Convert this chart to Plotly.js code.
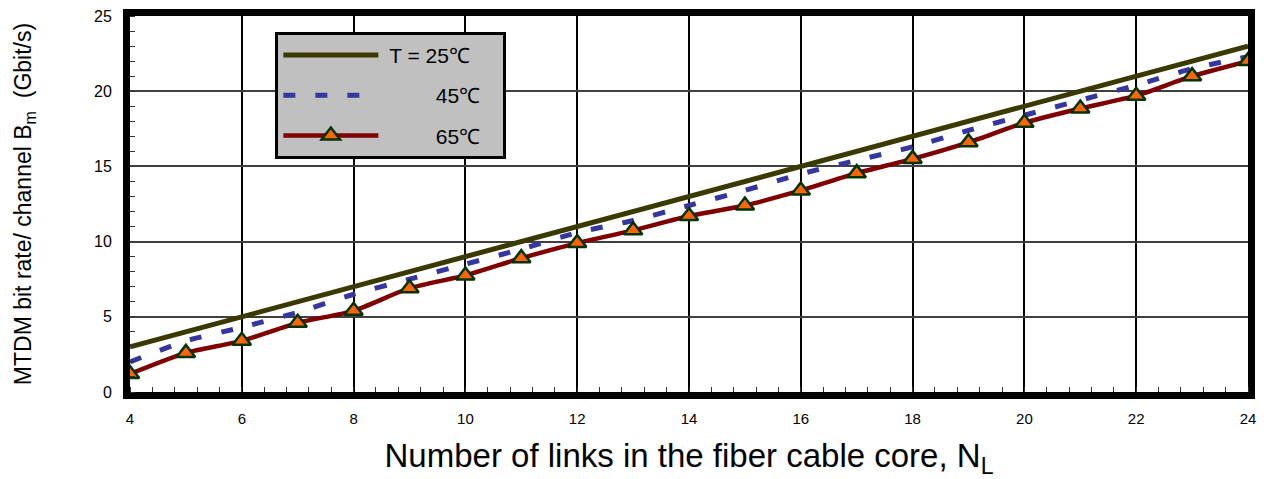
<!DOCTYPE html>
<html>
<head>
<meta charset="utf-8">
<script src="https://cdn.plot.ly/plotly-3.0.1.min.js"></script>
<style>html,body{margin:0;padding:0;background:#fff;}#chart{width:1268px;height:479px;}</style>
</head>
<body>
<div id="chart"></div>
<script>
const links = [4,5,6,7,8,9,10,11,12,13,14,15,16,17,18,19,20,21,22,23,24];
const rate25 = [3,4,5,6,7,8,9,10,11,12,13,14,15,16,17,18,19,20,21,22,23];
const rate45 = [2.0,3.4,4.3,5.3,6.5,7.5,8.5,9.5,10.6,11.4,12.4,13.4,14.5,15.4,16.3,17.4,18.4,19.4,20.4,21.5,22.3];
const rate65 = [1.2,2.6,3.4,4.6,5.4,6.9,7.75,8.9,9.9,10.75,11.7,12.4,13.4,14.55,15.5,16.6,17.9,18.85,19.7,21.0,22.0];
const degC = '\u2103';
const pad = '\u00a0\u00a0\u00a0';
const lead = '\u00a0';
const names = [lead + "T = 25" + degC + pad,
               lead + "\u00a0\u00a0\u00a0\u00a0\u00a0\u00a0\u00a0\u00a045" + degC + pad,
               lead + "\u00a0\u00a0\u00a0\u00a0\u00a0\u00a0\u00a0\u00a065" + degC + pad];
const xTicks = [4,6,8,10,12,14,16,18,20,22,24];
const yTicks = [0,5,10,15,20,25];

const traces = [
  {x: links, y: rate25, name: names[0], mode: 'lines', legendgroup: 'a',
   line: {color: '#3a3a00', width: 5}},
  {x: links, y: rate45, name: names[1], mode: 'lines', legendgroup: 'b',
   line: {color: '#3636a0', width: 5, dash: '12px,20px', shape: 'spline', smoothing: 0.6}},
  {x: links, y: rate65, name: names[2], mode: 'lines+markers', legendgroup: 'c',
   line: {color: '#800000', width: 4.5, shape: 'spline', smoothing: 0.6},
   marker: {symbol: 'triangle-up', size: 16, color: '#ff6600', line: {color: '#003300', width: 2.5}}}
];

const layout = {
  width: 1268, height: 479,
  margin: {l: 130, r: 20, t: 16, b: 87},
  paper_bgcolor: '#ffffff', plot_bgcolor: '#ffffff',
  font: {family: 'Liberation Sans, Arial, sans-serif', color: '#000'},
  showlegend: true,
  legend: {
    x: 0.13, y: 0.958, xanchor: 'left', yanchor: 'top',
    bgcolor: '#c0c0c0', bordercolor: '#000', borderwidth: 3,
    font: {size: 21, family: 'Liberation Sans, Arial, sans-serif'},
    itemwidth: 95, tracegroupgap: 10, traceorder: 'grouped'
  },
  xaxis: {
    range: [4, 24], tickvals: xTicks, ticktext: xTicks.map(String),
    showgrid: true, gridcolor: '#000', gridwidth: 2,
    showline: true, linecolor: '#000', linewidth: 7, mirror: true,
    ticks: '', zeroline: false, ticklabelstandoff: 7,
    tickfont: {size: 15, family: 'Liberation Sans Narrow, Liberation Sans, Arial, sans-serif'},
    minor: {dtick: 0.4, ticks: 'inside', ticklen: 5, tickcolor: '#333', tickwidth: 1, showgrid: false},
    title: {text: 'Number of links in the fiber cable core, N<sub>L</sub>', font: {size: 33}, standoff: 28}
  },
  yaxis: {
    range: [0, 25], tickvals: yTicks, ticktext: yTicks.map(String),
    showgrid: true, gridcolor: '#404040', gridwidth: 2,
    showline: true, linecolor: '#000', linewidth: 7, mirror: true,
    ticks: '', zeroline: false, ticklabelstandoff: 8,
    tickfont: {size: 16},
    minor: {dtick: 1, ticks: 'inside', ticklen: 5, tickcolor: '#333', tickwidth: 1, showgrid: false},
    title: {text: 'MTDM bit rate/ channel B<sub>m</sub>  (Gbit/s)', font: {size: 23}, standoff: 58}
  }
};

Plotly.newPlot('chart', traces, layout, {displayModeBar: false, staticPlot: true});
</script>
</body>
</html>
